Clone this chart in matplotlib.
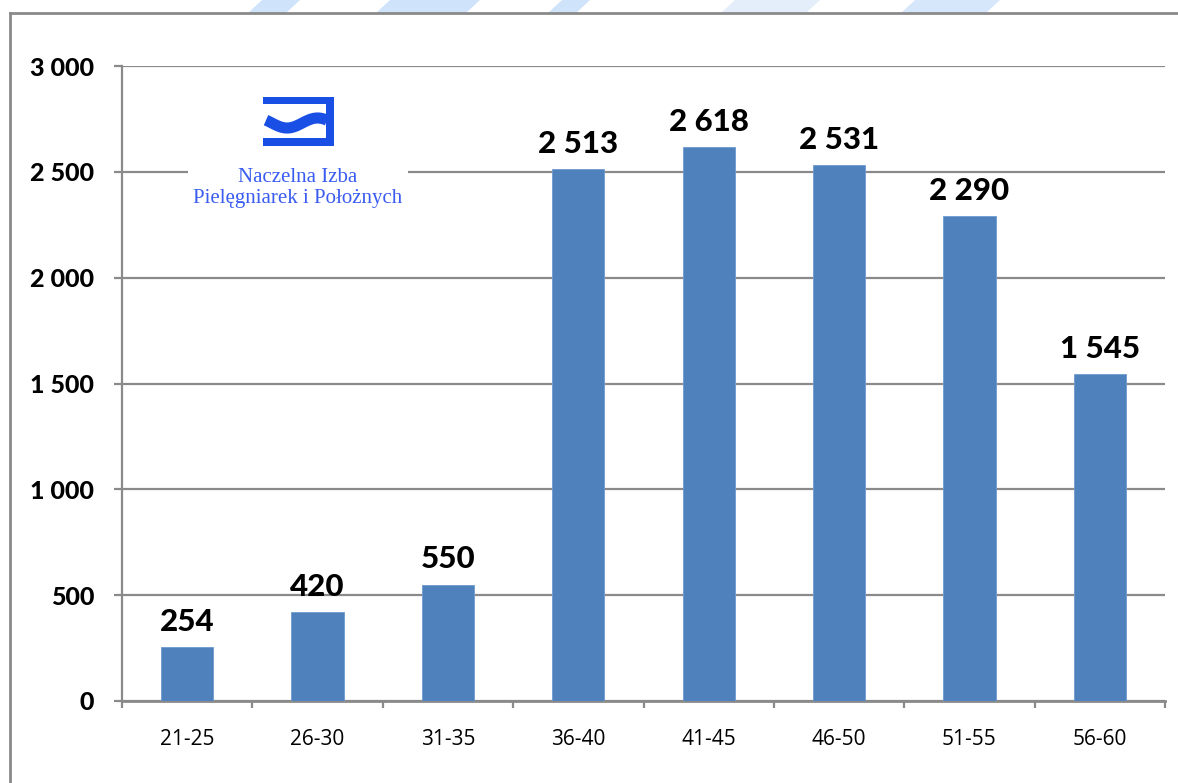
import matplotlib
matplotlib.use("Agg")
import matplotlib.pyplot as plt
from matplotlib.lines import Line2D
from matplotlib.patches import Polygon
from matplotlib.ticker import FuncFormatter, FixedLocator
import numpy as np

categories = ["21-25", "26-30", "31-35", "36-40", "41-45", "46-50", "51-55", "56-60"]
values = [254, 420, 550, 2513, 2618, 2531, 2290, 1545]
yticks = [0, 500, 1000, 1500, 2000, 2500, 3000]

W, H = 1178, 783
fig = plt.figure(figsize=(W / 100, H / 100), dpi=100)
fig.patch.set_facecolor("white")

def fx(px):
    return np.asarray(px) / W

def fy(py):
    return 1 - np.asarray(py) / H

# faint watermark shapes at the top
wm = [(248, 300, "#cfe3fb"), (376, 480, "#cfe3fb"), (548, 590, "#cfe3fb"),
      (721, 820, "#e4eefa"), (901, 1000, "#d6e6fb")]
for x0, x1, c in wm:
    fig.patches.append(Polygon([(fx(x0), fy(13)), (fx(x1 - 14), fy(13)),
                                (fx(x1), fy(0)), (fx(x0 + 14), fy(0))],
                               closed=True, transform=fig.transFigure,
                               facecolor=c, edgecolor="none", zorder=0))

# outer frame (left + top)
fig.add_artist(Line2D([fx(9.5), fx(9.5)], [fy(13), fy(783)], color="#8a8a8a", lw=2, transform=fig.transFigure))
fig.add_artist(Line2D([fx(9.5), fx(1178)], [fy(13), fy(13)], color="#8a8a8a", lw=2, transform=fig.transFigure))

left, right, top, bottom = 122, 1165, 66, 701
ax = fig.add_axes([fx(left), fy(bottom), fx(right - left), fy(top) - fy(bottom)])
ax.set_facecolor("none")

x = np.arange(len(categories))
ax.bar(x, values, width=0.4, color="#4F81BD", edgecolor="#6f9bd0", linewidth=0.6, zorder=3)

ax.set_xlim(-0.5, len(categories) - 0.5)
ax.set_ylim(0, 3000)
ax.yaxis.set_major_locator(FixedLocator(yticks))
ax.yaxis.set_major_formatter(FuncFormatter(lambda v, p: f"{int(v):,}".replace(",", " ")))
ax.grid(axis="y", color="#8a8a8a", linewidth=1.6, zorder=0)
ax.set_axisbelow(True)

for s in ["top", "right"]:
    ax.spines[s].set_visible(False)
ax.spines["left"].set_color("#8a8a8a")
ax.spines["left"].set_linewidth(1.6)
ax.spines["bottom"].set_color("#8a8a8a")
ax.spines["bottom"].set_linewidth(2)

ax.set_xticks(x)
ax.set_xticklabels(categories, fontfamily="Open Sans", fontsize=15)
ax.tick_params(axis="x", length=0, pad=20)
ax.set_xticks(np.arange(len(categories) + 1) - 0.5, minor=True)
ax.tick_params(axis="x", which="minor", length=5, width=1.6, color="#8a8a8a")
ax.tick_params(axis="y", length=6, width=1.6, color="#8a8a8a", pad=14)
for lab in ax.get_yticklabels():
    lab.set_fontfamily("Lato")
    lab.set_fontweight("black")
    lab.set_fontsize(18)

for xi, v in zip(x, values):
    ax.annotate(f"{v:,}".replace(",", " "), (xi, v), xytext=(0, 8), textcoords="offset points",
                ha="center", va="bottom", fontfamily="Lato", fontweight="black", fontsize=22.5, zorder=5)

# logo
fig.patches.append(Polygon([(fx(188), fy(150)), (fx(408), fy(150)), (fx(408), fy(214)), (fx(188), fy(214))],
                           closed=True, transform=fig.transFigure, facecolor="white", edgecolor="none", zorder=2))
logo_c = "#1a4fe6"
br = [(263, 97), (334, 97), (334, 146), (263, 146), (263, 138), (326, 138), (326, 104), (263, 104)]
fig.patches.append(Polygon([(fx(a), fy(b)) for a, b in br], closed=True, transform=fig.transFigure,
                           facecolor=logo_c, edgecolor="none", zorder=3))
t = np.linspace(0, 1, 80)
wx = 266 + t * 61
wy = 123 + 5 * np.sin(t * 2 * np.pi - 0.6)
fig.add_artist(Line2D(fx(wx), fy(wy), color=logo_c, lw=8, solid_capstyle="butt",
                      transform=fig.transFigure, zorder=4))
fig.text(fx(298), fy(177), "Naczelna Izba", ha="center", va="center", fontfamily="Liberation Serif",
         fontsize=15, color="#3a5cf0", zorder=5)
fig.text(fx(298), fy(199), "Pielęgniarek i Położnych", ha="center", va="center", fontfamily="Liberation Serif",
         fontsize=15, color="#3a5cf0", zorder=5)

fig.savefig("out.png", dpi=100, facecolor="white")
